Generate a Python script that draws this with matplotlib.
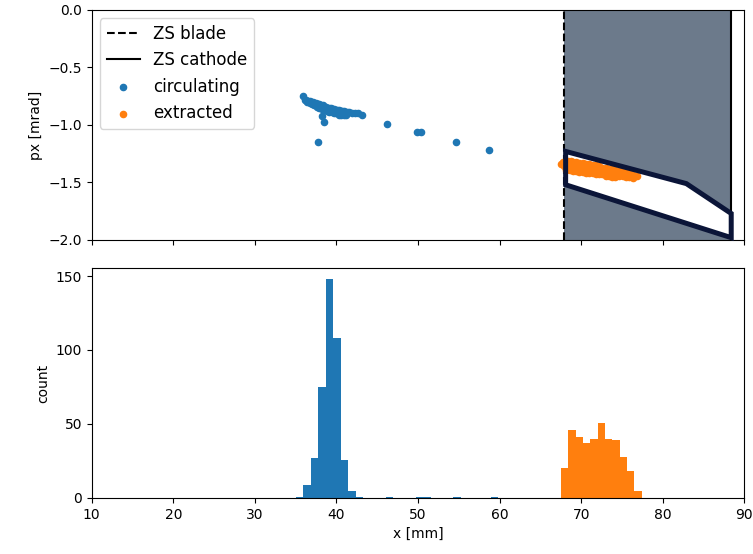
import numpy as np
import matplotlib
matplotlib.use("Agg")
import matplotlib.pyplot as plt
from matplotlib.patches import Polygon

# ---------------- data ----------------
zs_blade = 67.9      # mm
zs_cathode = 88.4    # mm

# extraction acceptance polygon (x [mm], px [mrad])
poly_x = [68.1, 82.9, 88.4, 88.4, 68.1]
poly_px = [-1.23, -1.51, -1.77, -1.98, -1.52]

# circulating particles (scatter)
circ_x = [35.9, 36.1, 36.3, 36.5, 36.7, 36.9, 37.1, 37.3, 37.5, 37.7, 37.9, 38.1,
          38.3, 38.5, 38.7, 38.9, 39.1, 39.3, 39.5, 39.7, 39.9, 40.1, 40.3, 40.5,
          40.7, 40.9, 41.1, 41.3, 41.6, 41.9, 42.3, 42.7, 43.1,
          36.4, 36.7, 37.0, 37.3, 37.6, 37.9, 38.2, 38.5, 38.8, 39.1, 39.4, 39.7,
          40.0, 40.3, 40.6, 40.9, 41.2,
          37.2, 37.6, 38.0, 38.4, 38.8, 39.2, 39.6, 40.0, 40.4, 40.8,
          38.2, 38.5, 37.7, 46.2, 49.9, 50.4, 54.6, 58.7]
circ_px = [-0.75, -0.78, -0.78, -0.79, -0.79, -0.80, -0.80, -0.81, -0.81, -0.82, -0.82, -0.83,
           -0.83, -0.84, -0.84, -0.85, -0.85, -0.85, -0.86, -0.86, -0.87, -0.87, -0.87, -0.88,
           -0.88, -0.88, -0.89, -0.89, -0.89, -0.90, -0.90, -0.90, -0.91,
           -0.80, -0.81, -0.82, -0.83, -0.84, -0.85, -0.86, -0.87, -0.88, -0.89, -0.89, -0.90,
           -0.90, -0.91, -0.91, -0.91, -0.91,
           -0.82, -0.83, -0.84, -0.85, -0.86, -0.87, -0.88, -0.89, -0.90, -0.90,
           -0.92, -0.97, -1.15, -0.99, -1.06, -1.06, -1.15, -1.22]

# extracted particles (scatter)
extr_x = [67.5, 67.8, 68.1, 68.4, 68.7, 69.0, 69.4, 69.8, 70.2, 70.6, 71.0, 71.4,
          71.8, 72.2, 72.6, 73.0, 73.4, 73.8, 74.2, 74.6, 75.0, 75.4, 75.8, 76.2, 76.6, 76.9,
          67.9, 68.3, 68.7, 69.1, 69.5, 69.9, 70.3, 70.7, 71.1, 71.5, 71.9, 72.3, 72.7,
          73.1, 73.5, 73.9, 74.3, 74.7, 75.1, 75.5, 75.9, 76.3,
          68.2, 68.6, 69.0, 69.4, 69.8, 70.2, 70.6, 71.0, 71.4, 71.8, 72.2, 72.6, 73.0,
          73.4, 73.8, 74.2]
extr_px = [-1.34, -1.32, -1.31, -1.31, -1.31, -1.32, -1.32, -1.33, -1.33, -1.34, -1.34, -1.35,
           -1.35, -1.36, -1.37, -1.37, -1.38, -1.38, -1.39, -1.40, -1.41, -1.41, -1.42, -1.43, -1.44, -1.44,
           -1.36, -1.36, -1.36, -1.37, -1.37, -1.38, -1.38, -1.39, -1.39, -1.40, -1.40, -1.41, -1.41,
           -1.42, -1.42, -1.43, -1.43, -1.44, -1.44, -1.45, -1.45, -1.46,
           -1.39, -1.39, -1.40, -1.40, -1.41, -1.41, -1.42, -1.42, -1.42, -1.43, -1.43, -1.43, -1.44,
           -1.44, -1.45, -1.45]

# histograms (bin edges in mm, counts)
circ_edges = [35.04, 35.94, 36.86, 37.78, 38.70, 39.62, 40.54, 41.46, 42.38, 43.30,
              44.22, 45.14, 46.06, 46.98, 47.90, 48.82, 49.74, 50.66, 51.58, 52.50,
              53.42, 54.34, 55.26, 56.18, 57.10, 58.02, 58.94, 59.86]
circ_counts = [1, 9, 27, 75, 148, 108, 26, 5, 1, 0, 0, 0, 1, 0, 0, 0, 1, 1, 0, 0,
               0, 1, 0, 0, 0, 0, 1]
extr_edges = [67.53, 68.43, 69.33, 70.23, 71.13, 72.03, 72.93, 73.83, 74.73, 75.63,
              76.53, 77.43]
extr_counts = [20, 46, 41, 37, 40, 51, 40, 39, 28, 18, 5]

px_ticks = [0.0, -0.5, -1.0, -1.5, -2.0]
count_ticks = [0, 50, 100, 150]
x_ticks = [10, 20, 30, 40, 50, 60, 70, 80, 90]

# ---------------- figure ----------------
fig, (ax1, ax2) = plt.subplots(2, 1, figsize=(7.53, 5.54), dpi=100, sharex=True)
fig.subplots_adjust(left=0.1218, right=0.9884, top=0.982, bottom=0.1011, hspace=0.122)

# zero-septum region
ax1.axvspan(zs_blade, zs_cathode, color='#6c7a8b', zorder=0, lw=0)
ax1.add_patch(Polygon(np.column_stack([poly_x, poly_px]), closed=True,
                      facecolor='white', edgecolor='none', zorder=0.5))
ax1.axvline(zs_blade, color='black', ls='--', lw=1.5, label='ZS blade', zorder=1)
ax1.axvline(zs_cathode, color='black', ls='-', lw=1.5, label='ZS cathode', zorder=1)
ax1.scatter(circ_x, circ_px, s=20, color='#1f77b4', label='circulating', zorder=2)
ax1.scatter(extr_x, extr_px, s=20, color='#ff7f0e', label='extracted', zorder=2)
ax1.add_patch(Polygon(np.column_stack([poly_x, poly_px]), closed=True,
                      facecolor='none', edgecolor='#0b1538', lw=3.6, zorder=3,
                      clip_on=False))
ax1.set_ylim(-2.0, 0.0)
ax1.set_yticks(px_ticks)
ax1.set_ylabel('px [mrad]')
ax1.legend(loc='upper left', fontsize=12)

ax2.hist(circ_edges[:-1], bins=circ_edges, weights=circ_counts, color='#1f77b4')
ax2.hist(extr_edges[:-1], bins=extr_edges, weights=extr_counts, color='#ff7f0e')
ax2.set_xlim(10, 90)
ax2.set_xticks(x_ticks)
ax2.set_yticks(count_ticks)
ax2.set_xlabel('x [mm]')
ax2.set_ylabel('count')

fig.savefig('out.png', dpi=100)
